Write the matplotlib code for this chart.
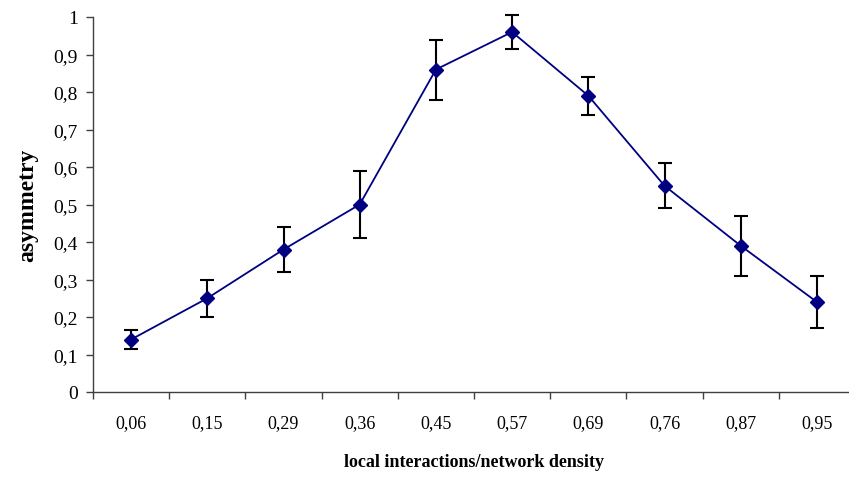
import matplotlib
matplotlib.use("Agg")
import matplotlib.pyplot as plt
import numpy as np

categories = ["0,06", "0,15", "0,29", "0,36", "0,45", "0,57", "0,69", "0,76", "0,87", "0,95"]
asymmetry = [0.14, 0.25, 0.38, 0.50, 0.86, 0.96, 0.79, 0.55, 0.39, 0.24]
errors = [0.025, 0.05, 0.06, 0.09, 0.08, 0.045, 0.05, 0.06, 0.08, 0.07]
ytick_values = [0, 0.1, 0.2, 0.3, 0.4, 0.5, 0.6, 0.7, 0.8, 0.9, 1.0]
ytick_labels = ["0", "0,1", "0,2", "0,3", "0,4", "0,5", "0,6", "0,7", "0,8", "0,9", "1"]

plt.rcParams['font.family'] = ['Liberation Serif', 'DejaVu Serif']

fig = plt.figure(figsize=(8.49, 4.89), dpi=100)
ax = fig.add_axes([93/849, 96/489, 762/849, 375/489])

x = np.arange(len(categories))
ax.errorbar(x, asymmetry, yerr=errors, fmt='none', ecolor='black',
            elinewidth=1.5, capsize=4.7, capthick=1.5, clip_on=False, zorder=2)
ax.plot(x, asymmetry, color='#000080', linewidth=1.3, marker='D',
        markersize=7.3, markerfacecolor='#000080', markeredgecolor='#000080',
        clip_on=False, zorder=3)

ax.set_xlim(-0.5, len(categories) - 0.5)
ax.set_ylim(0, 1)

ax.set_xticks(np.arange(-0.5, len(categories) + 0.5, 1))
ax.set_xticklabels([])
ax.set_xticks(x, minor=True)
ax.set_xticklabels(categories, minor=True)
ax.tick_params(axis='x', which='major', direction='out', length=5, width=1, color='#404040')
ax.tick_params(axis='x', which='minor', length=0, pad=16, labelsize=13)

ax.set_yticks(ytick_values)
ax.set_yticklabels(ytick_labels)
ax.tick_params(axis='y', direction='out', length=5, width=1, color='#404040', labelsize=14, pad=6)

for side in ['top', 'right']:
    ax.spines[side].set_visible(False)
for side in ['left', 'bottom']:
    ax.spines[side].set_color('#404040')
    ax.spines[side].set_linewidth(1.0)

ax.set_xlabel('local interactions/network density', fontsize=13, fontweight='bold', labelpad=16)
ax.set_ylabel('asymmetry', fontsize=17, fontweight='bold', labelpad=11)

fig.savefig('out.png', dpi=100)
